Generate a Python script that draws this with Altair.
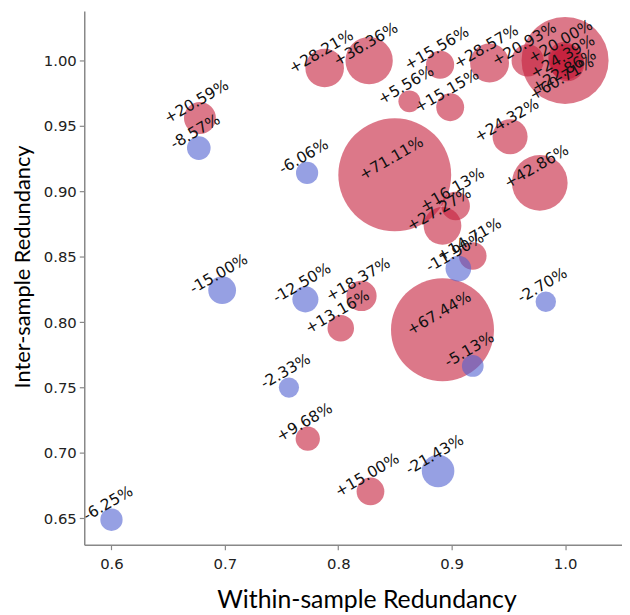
import altair as alt
import pandas as pd

# Within-sample redundancy (x), inter-sample redundancy (y), relative change in %
within = [0.600, 0.678, 0.677, 0.7725, 0.6976, 0.771, 0.8205, 0.8022, 0.7565, 0.7731,
          0.8284, 0.888, 0.8919, 0.9186, 0.9059, 0.9186, 0.8919, 0.9035, 0.8498, 0.9777,
          0.9515, 0.788, 0.8272, 0.8898, 0.8627, 0.8987, 0.9334, 0.967, 0.999, 1.001,
          1.002, 1.000, 0.983]
inter = [0.649, 0.956, 0.933, 0.914, 0.8244, 0.8174, 0.820, 0.7954, 0.750, 0.7109,
         0.6706, 0.6862, 0.7942, 0.7665, 0.8409, 0.8505, 0.8736, 0.8888, 0.9126, 0.9064,
         0.9417, 0.9942, 0.9998, 0.9967, 0.9687, 0.9642, 0.998, 1.000, 1.002, 0.999,
         0.997, 1.000, 0.8156]
change = [-6.25, 20.59, -8.57, -6.06, -15.00, -12.50, 18.37, 13.16, -2.33, 9.68,
          15.00, -21.43, 67.44, -5.13, -11.90, 14.71, 27.27, 16.13, 71.11, 42.86,
          24.32, 28.21, 36.36, 15.56, 5.56, 15.15, 28.57, 20.93, 20.00, 24.39,
          22.86, 60.71, -2.70]

x_ticks = [0.6, 0.7, 0.8, 0.9, 1.0]
y_ticks = [0.65, 0.70, 0.75, 0.80, 0.85, 0.90, 0.95, 1.00]

df = pd.DataFrame({"within": within, "inter": inter, "change": change})
df["idx"] = range(len(df))

X_DOMAIN = [0.576, 1.0502]
Y_DOMAIN = [0.6299, 1.0378]

RED = "#C41E3A"
BLUE = "#5060D0"


def xenc(field):
    return alt.X(
        f"{field}:Q",
        scale=alt.Scale(domain=X_DOMAIN, nice=False, zero=False),
        axis=alt.Axis(values=x_ticks, format=".1f", title="Within-sample Redundancy",
                      labelPadding=7, titleFontSize=25,
                      titleX=285, titleY=63, titleBaseline="alphabetic", titleAlign="center"),
    )


def yenc(field):
    return alt.Y(
        f"{field}:Q",
        scale=alt.Scale(domain=Y_DOMAIN, nice=False, zero=False),
        axis=alt.Axis(values=y_ticks, format=".2f", title="Inter-sample Redundancy",
                      labelPadding=3, titleFontSize=22,
                      titleX=-62, titleY=258, titleAngle=270, titleBaseline="middle",
                      titleAlign="center"),
    )


base = alt.Chart(df).transform_calculate(
    mag="exp(abs(datum.change) / 20)",
    sign="datum.change >= 0 ? 'pos' : 'neg'",
    neg="datum.change < 0 ? 1 : 0",
    label="(datum.change >= 0 ? '+' : '-') + format(abs(datum.change), '.2f') + '%'",
    gx="round(datum.within * 100)",
    gy="round(datum.inter * 100)",
)

circles = base.mark_circle(opacity=0.6).encode(
    x=xenc("within"),
    y=yenc("inter"),
    size=alt.Size("mag:Q", scale=alt.Scale(type="linear", domain=[0, 35], range=[0, 12985]),
                  legend=None),
    color=alt.Color("sign:N", scale=alt.Scale(domain=["pos", "neg"], range=[RED, BLUE]),
                    legend=None),
    order=alt.Order("neg:Q"),
)

labels = base.transform_window(
    rank="row_number()", groupby=["gx", "gy"], sort=[alt.SortField("idx")]
).transform_calculate(
    lx="datum.within - 0.003",
    ly="datum.inter + 0.0125 - (datum.rank - 1) * 0.0088",
).mark_text(
    angle=330, font="DejaVu Sans", fontSize=15.5, color="#111111",
    align="center", baseline="middle",
).encode(
    x=xenc("lx"),
    y=yenc("ly"),
    text="label:N",
)

chart = alt.layer(circles, labels).properties(
    width=543,
    height=539,
    autosize=alt.AutoSizeParams(type="none"),
    padding={"left": 77, "top": 0, "right": 0, "bottom": 68},
).configure_view(
    strokeWidth=0
).configure_axis(
    grid=False,
    domainColor="#888888",
    domainWidth=1.5,
    tickColor="#888888",
    tickSize=5,
    tickWidth=1.2,
    labelFont="DejaVu Sans",
    labelFontSize=15,
    labelColor="#222222",
    titleFont="Lato",
    titleFontWeight="normal",
    titleColor="#000000",
)

chart.save("out.html", embed_options={"renderer": "svg", "actions": False})
